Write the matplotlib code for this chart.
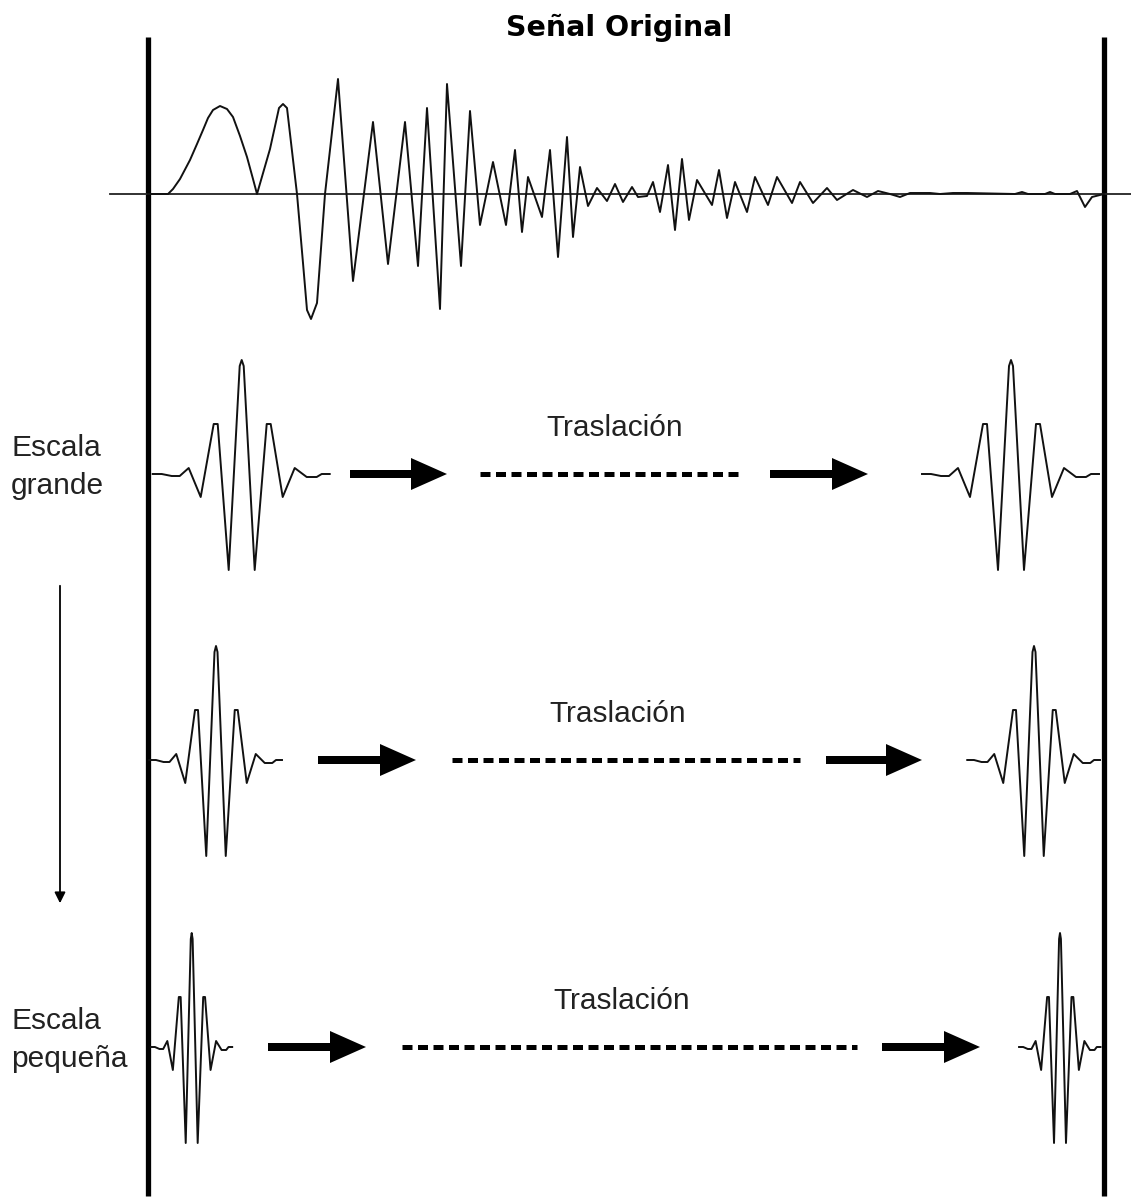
import numpy as np
import matplotlib
matplotlib.use("Agg")
import matplotlib.pyplot as plt
import matplotlib.patches as mpatches

# original signal: turning points
# t = pixels to the right of the left bar, amp = pixels above the baseline
signal_t = [0, 20, 25, 32, 42, 49, 55, 60, 65, 72, 79, 85, 92, 99, 105, 109,
            122, 131, 135, 139, 149, 155, 159, 163, 169, 177,
            190, 205, 225, 240, 257, 270, 279, 292, 299, 313, 322, 332, 345, 358,
            367, 374, 380, 394, 402, 410, 419, 425, 432, 440, 449, 459, 467, 475,
            484, 490, 499, 505, 512, 520, 527, 534, 541, 549, 564, 571, 579, 587,
            599, 607, 620, 629, 644, 652, 665, 679, 689, 705, 719, 730, 742, 752,
            762, 782, 792, 805, 819, 867, 874, 880, 897, 902, 907, 922, 929, 937,
            944, 956]
signal_amp = [0, 0, 5, 15, 34, 50, 64, 76, 84, 88, 85, 77, 58, 37, 15, 0,
              45, 86, 90, 86, 0, -69, -116, -125, -109, 0,
              115, -87, 72, -70, 72, -72, 86, -115, 110, -72, 83, -31, 32, -31,
              44, -38, 17, -23, 44, -63, 57, -43, 27, -12, 6, -7, 10, -8, 7, -3,
              -2, 12, -18, 29, -36, 35, -26, 14, -11, 24, -24, 12, -18, 17, -11,
              17, -9, 12, -9, 6, -6, 4, -3, 3, 0, -3, 1, 1, 0, 1, 1, 0, 2, 0, 0,
              2, 0, 0, 3, -13, -3, 0]

# mother wavelet shape (large scale), offsets from its centre
wave_dx = [-89, -80, -70, -62, -53, -41, -28, -24, -13, -2, 0, 2, 13, 25, 29,
           41, 53, 65, 75, 80, 88]
wave_amp = [0, 0, -2, -2, 6, -23, 50, 50, -96, 108, 114, 108, -96, 50, 50,
            -23, 6, -3, -3, 0, 0]

# one row per scale
row_scales = [1.0, 0.75, 0.46]
row_labels = [("Escala", "grande"), None, ("Escala", "pequeña")]
shift_label = "Traslación"
title = "Señal Original"

# layout (pixels)
left_bar, right_bar = 148, 1104
sig_base = 194
row_base = [474, 760, 1047]
left_centre = [241.7, 216, 191.7]
right_centre = [1011, 1034, 1060]
arrow1 = [(350, 447), (318, 416), (268, 366)]
dots = [(480, 742), (452, 800), (402, 857)]
arrow2 = [(770, 868), (826, 922), (882, 980)]
text_x = [615, 618, 622]

fig = plt.figure(figsize=(11.31, 11.98), dpi=100)
ax = fig.add_axes([0, 0, 1, 1])
ax.set_xlim(0, 1131)
ax.set_ylim(1198, 0)
ax.axis("off")

# frame bars and time axis
for xb in (left_bar, right_bar):
    ax.plot([xb, xb], [37, 1196], color="black", lw=3.8, solid_capstyle="butt")
ax.plot([110, 1131], [sig_base, sig_base], color="#222222", lw=1.3)

ax.text(619, 28, title, ha="center", va="center", fontsize=20.5,
        fontweight="bold", family="DejaVu Sans")

# original signal
st = np.array(signal_t, dtype=float)
sa = np.array(signal_amp, dtype=float)
ax.plot(left_bar + st, sig_base - sa, color="#111111", lw=1.4)

dx = np.array(wave_dx, dtype=float)
wa = np.array(wave_amp, dtype=float)

for i, s in enumerate(row_scales):
    yb = row_base[i]
    for xc in (left_centre[i], right_centre[i]):
        ax.plot(xc + dx * s, yb - wa, color="#111111", lw=1.4)

    for x0, x1 in (arrow1[i], arrow2[i]):
        ax.add_patch(mpatches.FancyArrow(x0, yb, x1 - x0, 0, width=8,
                                         head_width=32, head_length=36,
                                         length_includes_head=True,
                                         color="black", lw=0))
    ax.plot(dots[i], [yb, yb], color="black", lw=3.6,
            ls=(0, (2.0, 1.1)), dash_capstyle="butt")
    ax.text(text_x[i], yb - 46, shift_label, ha="center", va="center",
            fontsize=21.5, family="Liberation Sans", color="#222222")

    if row_labels[i] is not None:
        ax.text(11, yb - 7, "\n".join(row_labels[i]), ha="left", va="center",
                fontsize=21.5, family="Liberation Sans", color="#222222",
                linespacing=1.42)

# scale direction arrow
ax.annotate("", xy=(60, 906), xytext=(60, 583),
            arrowprops=dict(arrowstyle="-|>", lw=1.3, color="black",
                            mutation_scale=16))

fig.savefig("out.png", dpi=100)
